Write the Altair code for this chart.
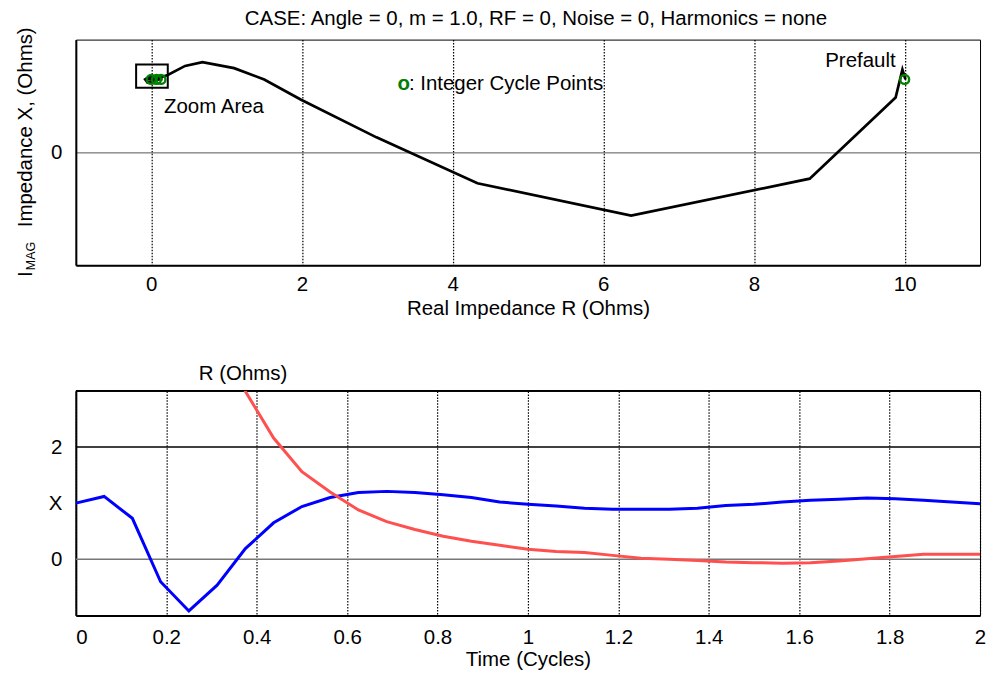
import altair as alt
import pandas as pd

# ---------------- data ----------------
# Bottom panel: time in cycles, X and R (Ohms)
time = [0, 0.0625, 0.125, 0.1875, 0.25, 0.3125, 0.375, 0.4375, 0.5, 0.5625,
        0.625, 0.6875, 0.75, 0.8125, 0.875, 0.9375, 1.0, 1.0625, 1.125, 1.1875,
        1.25, 1.3125, 1.375, 1.4375, 1.5, 1.5625, 1.625, 1.6875, 1.75, 1.8125,
        1.875, 1.9375, 2.0]
x_vals = [1.00, 1.12, 0.73, -0.40, -0.92, -0.46, 0.19, 0.65, 0.94, 1.10,
          1.19, 1.21, 1.19, 1.15, 1.10, 1.02, 0.98, 0.95, 0.91, 0.89,
          0.89, 0.89, 0.91, 0.96, 0.98, 1.02, 1.05, 1.07, 1.09, 1.08,
          1.05, 1.02, 0.99]
r_vals = [10.0, 9.97, 9.87, 8.74, 6.37, 4.33, 2.99, 2.16, 1.56, 1.20,
          0.88, 0.67, 0.53, 0.41, 0.32, 0.25, 0.18, 0.14, 0.12, 0.07,
          0.02, 0.00, -0.02, -0.05, -0.06, -0.07, -0.06, -0.03, 0.01, 0.05,
          0.09, 0.09, 0.09]

# Top panel: impedance trajectory (R, X)
traj_r = [10.01, 9.97, 9.88, 8.74, 6.37, 4.33, 2.99, 1.99, 1.50, 1.10, 0.68,
          0.45, 0.22, 0.10, -0.02, -0.08, -0.05, 0.03, 0.10, 0.15, 0.10, 0.00, -0.05]
traj_x = [0.97, 1.10, 0.73, -0.35, -0.84, -0.41, 0.20, 0.70, 0.97, 1.12, 1.20,
          1.15, 1.03, 0.99, 1.01, 0.97, 0.93, 0.95, 0.97, 0.97, 0.98, 0.98, 0.97]
# Integer cycle points
cyc_r = [10.0, 0.0, 0.07, 0.13]
cyc_x = [0.97, 0.97, 0.97, 0.97]
# Zoom area box
zoom_r = [-0.2, 0.22]
zoom_x = [0.86, 1.17]

title_text = "CASE: Angle = 0, m = 1.0, RF = 0, Noise = 0, Harmonics = none"

FONT = "Liberation Sans"
FS = 20.5
W = 906
H1 = 226
H2 = 225

# ---------------- top panel ----------------
traj = pd.DataFrame({"R": traj_r, "X": traj_x, "i": list(range(len(traj_r)))})
cyc = pd.DataFrame({"R": cyc_r, "X": cyc_x})
box = pd.DataFrame({"r1": [zoom_r[0]], "r2": [zoom_r[1]], "x1": [zoom_x[0]], "x2": [zoom_x[1]]})

xs = alt.Scale(domain=[-1, 11], nice=False, zero=False)
ys = alt.Scale(domain=[-1.5, 1.5], nice=False, zero=False)

top_line = alt.Chart(traj).mark_line(color="black", strokeWidth=2.7).encode(
    x=alt.X("R:Q", scale=xs,
            axis=alt.Axis(values=[0, 2, 4, 6, 8, 10], title="Real Impedance R (Ohms)",
                          grid=True, gridDash=[1.5, 1.5], gridColor="black", gridWidth=1.2,
                          ticks=False, tickSize=0, labelPadding=9, titlePadding=4,
                          format="d")),
    y=alt.Y("X:Q", scale=ys,
            axis=alt.Axis(values=[0], title=None, grid=True, gridColor="#555",
                          gridWidth=1, ticks=False, tickSize=0, labelPadding=14,
                          format="d")),
    order="i:Q",
)

top_box = alt.Chart(box).mark_rect(fill=None, stroke="black", strokeWidth=2).encode(
    x="r1:Q", x2="r2:Q", y="x1:Q", y2="x2:Q")

top_pts = alt.Chart(cyc).mark_point(shape="circle", filled=False, color="#008000",
                                     size=80, strokeWidth=2.4, opacity=1).encode(
    x="R:Q", y="X:Q")

def label(df, **kw):
    return alt.Chart(df).mark_text(font=FONT, fontSize=FS, color="black", **kw)

prefault = label(pd.DataFrame({"R": [9.88], "X": [1.22], "t": ["Prefault"]}),
                 align="right", baseline="middle").encode(x="R:Q", y="X:Q", text="t:N")
zoomlab = label(pd.DataFrame({"R": [0.17], "X": [0.61], "t": ["Zoom Area"]}),
                align="left", baseline="middle").encode(x="R:Q", y="X:Q", text="t:N")
leg_o = alt.Chart(pd.DataFrame({"R": [3.27], "X": [0.91], "t": ["o"]})).mark_text(
    font=FONT, fontSize=FS, fontWeight="bold", color="#008000", align="left",
    baseline="middle").encode(x="R:Q", y="X:Q", text="t:N")
leg_t = label(pd.DataFrame({"R": [3.42], "X": [0.91], "t": [": Integer Cycle Points"]}),
              align="left", baseline="middle").encode(x="R:Q", y="X:Q", text="t:N")

# chart title as a text mark
title_mark = label(pd.DataFrame({"t": [title_text]}), align="center",
                   baseline="middle").encode(x=alt.value(W / 2 + 8), y=alt.value(-21),
                                             text="t:N")

# y-axis title with subscript, drawn as rotated text pieces
ytit_i = label(pd.DataFrame({"t": ["I"]}), angle=270, align="left",
               baseline="alphabetic").encode(x=alt.value(-44), y=alt.value(238), text="t:N")
ytit_mag = alt.Chart(pd.DataFrame({"t": ["MAG"]})).mark_text(
    font=FONT, fontSize=12.5, color="black", angle=270, align="left",
    baseline="alphabetic").encode(x=alt.value(-41), y=alt.value(231), text="t:N")
ytit_rest = label(pd.DataFrame({"t": ["Impedance X, (Ohms)"]}), angle=270, align="left",
                  baseline="alphabetic").encode(x=alt.value(-44), y=alt.value(188), text="t:N")

# invisible frame fixing the chart's outer bounds
frame_top = alt.Chart(pd.DataFrame({"a": [0]})).mark_rect(opacity=0).encode(
    x=alt.value(-75), x2=alt.value(914), y=alt.value(-38), y2=alt.value(0))

top = alt.layer(frame_top, top_line, top_box, top_pts, prefault, zoomlab, leg_o, leg_t,
                title_mark, ytit_i, ytit_mag, ytit_rest).properties(width=W, height=H1)

# ---------------- bottom panel ----------------
bot = pd.DataFrame({"t": time, "X": x_vals, "R": r_vals})
xb = alt.Scale(domain=[0, 2], nice=False, zero=False)
yb = alt.Scale(domain=[-1, 3], nice=False, zero=False)

hl = pd.DataFrame({"y": [0, 2, 3], "c": ["#777777", "#000000", "#000000"]})
hlines = alt.Chart(hl).mark_rule(strokeWidth=1.6).encode(
    y=alt.Y("y:Q", scale=yb), color=alt.Color("c:N", scale=None))

blue = alt.Chart(bot).mark_line(color="#0000ff", strokeWidth=3, clip=True).encode(
    x=alt.X("t:Q", scale=xb,
            axis=alt.Axis(values=[0, 0.2, 0.4, 0.6, 0.8, 1, 1.2, 1.4, 1.6, 1.8, 2],
                          title="Time (Cycles)", format="~g",
                          grid=True, gridDash=[1.5, 1.5], gridColor="black", gridWidth=1.2,
                          ticks=False, tickSize=0, labelPadding=12, titlePadding=2,
                          labelAlign=alt.expr("datum.value == 0 ? 'left' : 'center'"))),
    y=alt.Y("X:Q", scale=yb,
            axis=alt.Axis(values=[0, 1, 2], title=None, grid=False, ticks=False, tickSize=0,
                          labelPadding=14, format="d",
                          labelExpr="datum.value == 1 ? 'X' : datum.label")),
)
red = alt.Chart(bot).mark_line(color="#ff5050", strokeWidth=3, clip=True).encode(
    x=alt.X("t:Q", scale=xb), y=alt.Y("R:Q", scale=yb))

rlab = label(pd.DataFrame({"t": [0.37], "s": ["R (Ohms)"]}), align="center",
             baseline="middle").encode(x=alt.X("t:Q", scale=xb), y=alt.value(-17), text="s:N")

frame_bot = alt.Chart(pd.DataFrame({"a": [0]})).mark_rect(opacity=0).encode(
    x=alt.value(-75), x2=alt.value(914), y=alt.value(0), y2=alt.value(285))

bottom = alt.layer(frame_bot, hlines, blue, red, rlab).properties(width=W, height=H2)

chart = alt.vconcat(top, bottom, spacing=126, bounds="flush").properties(
    padding=0
).configure(font=FONT).configure_view(
    stroke="black", strokeWidth=1
).configure_axis(
    labelFont=FONT, titleFont=FONT, labelFontSize=FS, titleFontSize=FS,
    labelColor="black", titleColor="black", titleFontWeight="normal",
    domainColor="black", domainWidth=2
)

chart.save("out.html", embed_options={"renderer": "svg", "actions": False})
